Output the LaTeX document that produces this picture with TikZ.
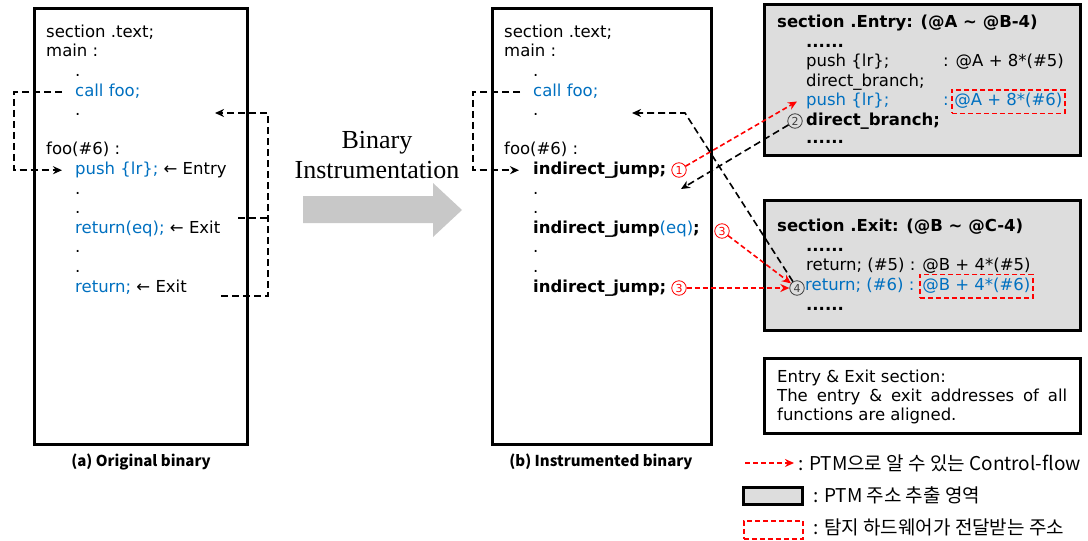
\documentclass[tikz,border=0pt]{standalone}
\usepackage{fontspec}
\setmainfont{DejaVu Sans}
\newfontfamily\captionface{Noto Sans CJK KR}
\newfontfamily\titleface{Liberation Serif}
\usetikzlibrary{positioning}
\usetikzlibrary{calc}
\usetikzlibrary{arrows.meta}
\definecolor{codeblue}{HTML}{0070C0}
\definecolor{ptmgray}{HTML}{DDDDDD}
\definecolor{arrowgray}{HTML}{C8C8C8}
\tikzset{
    % Filled tips, a little larger than the default ones
    >={Stealth[length=9pt, width=8pt]},
%
    % One line of a listing, placed by its left end
    code line/.style={font=\fontsize{16.5}{19.5}\selectfont, inner sep=0pt,
        anchor=west, text height=12pt, text depth=3.5pt},
%
    % Outline of a whole binary
    binary box/.style={draw, line width=3pt, outer sep=0pt},
%
    % Region that the PTM pulls its addresses out of
    ptm box/.style={binary box, fill=ptmgray},
%
    % Plain control flow, and control flow that the PTM can follow
    plain flow/.style={->, line width=1.6pt, dash pattern=on 7pt off 4pt},
    ptm flow/.style={plain flow, red, dash pattern=on 5pt off 3pt},
%
    % Address that is handed on to the detector
    addr mark/.style={draw=red, line width=1.5pt, dash pattern=on 5pt off 3pt,
        inner xsep=2.5pt, inner ysep=4pt},
%
    % Circled step numbers
    step mark/.style={circle, draw, line width=0.8pt, inner sep=0pt,
        minimum size=14.5pt, font=\fontsize{11}{11}\selectfont},
%
    legend text/.style={font=\captionface\fontsize{19}{22}\selectfont,
        inner sep=0pt, anchor=west}}

\begin{document}
\begin{tikzpicture}[x=1pt, y=-1pt]
\useasboundingbox (0,0) rectangle (1088,541);

% (a) the original binary
\node[binary box, anchor=north west, minimum width=213pt, minimum height=436pt]
    (orig box) at (34,8) {};
\node[code line] (orig section) at (46,33) {section .text;};
\node[code line] (orig main) at (46,52.6) {main :};
\node[code line] (orig dot1) at (75,72.2) {.};
\node[code line, codeblue] (orig call) at (75,91.8) {call foo;};
\node[code line] (orig dot2) at (75,111.4) {.};
\node[code line] (orig foo) at (46,150.6) {foo(\#6) :};
\node[code line] (orig push) at (75,170.2) {{\color{codeblue}push \{lr\};} ← Entry};
\node[code line] (orig dot3) at (75,189.8) {.};
\node[code line] (orig dot4) at (75,209.4) {.};
\node[code line] (orig reteq) at (75,229) {{\color{codeblue}return(eq);} ← Exit};
\node[code line] (orig dot5) at (75,248.6) {.};
\node[code line] (orig dot6) at (75,268.2) {.};
\node[code line] (orig ret) at (75,287.8) {{\color{codeblue}return;} ← Exit};
\node[font=\captionface\bfseries\fontsize{15}{18}\selectfont] (orig caption)
    at (141,462) {(a) Original binary};

\coordinate (orig back) at (215,113);
\coordinate (orig reteq out) at (238,218);
\coordinate (orig ret out) at (221,296);
\draw[plain flow] ([xshift=-13pt]orig call.west) -- ++(-48,0)
    |- ([xshift=-13pt]orig push.west);
\draw[plain flow] (orig ret out) -- ++(47,0) |- (orig back);
\draw[line width=1.6pt, dash pattern=on 7pt off 4pt]
    (orig reteq out) -- ++(30,0);

% the instrumentation step
\fill[arrowgray] (303,196) -- (433,196) -- (433,183) -- (462,210)
    -- (433,237) -- (433,223) -- (303,223) -- cycle;
\node[font=\titleface\fontsize{26}{30}\selectfont, align=center]
    (instrument label) at (377,155) {Binary\\Instrumentation};

% (b) the instrumented binary
\node[binary box, anchor=north west, minimum width=219pt, minimum height=436pt]
    (inst box) at (492,8) {};
\node[code line] (inst section) at (504,33) {section .text;};
\node[code line] (inst main) at (504,52.6) {main :};
\node[code line] (inst dot1) at (533,72.2) {.};
\node[code line, codeblue] (inst call) at (533,91.8) {call foo;};
\node[code line] (inst dot2) at (533,111.4) {.};
\node[code line] (inst foo) at (504,150.6) {foo(\#6) :};
\node[code line, font=\bfseries\fontsize{16.5}{19.5}\selectfont]
    (inst jump) at (533,170.2) {indirect\_jump;};
\node[code line] (inst dot3) at (533,189.8) {.};
\node[code line] (inst dot4) at (533,209.4) {.};
\node[code line] (inst jumpeq) at (533,229)
    {\textbf{indirect\_jump}{\color{codeblue}(eq)}\textbf{;}};
\node[code line] (inst dot5) at (533,248.6) {.};
\node[code line] (inst dot6) at (533,268.2) {.};
\node[code line, font=\bfseries\fontsize{16.5}{19.5}\selectfont]
    (inst jumpret) at (533,287.8) {indirect\_jump;};
\node[font=\captionface\bfseries\fontsize{15}{18}\selectfont] (inst caption)
    at (601,462) {(b) Instrumented binary};

\draw[plain flow] ([xshift=-13pt]inst call.west) -- ++(-47,0)
    |- ([xshift=-14pt]inst jump.west);

% entry section
\node[ptm box, anchor=north west, minimum width=316pt, minimum height=151pt]
    (entry box) at (764,4) {};
\node[code line, font=\bfseries\fontsize{16.5}{19.5}\selectfont]
    (entry head) at (777,23) {section .Entry: (@A \textasciitilde{} @B-4)};
\node[code line, font=\bfseries\fontsize{16.5}{19.5}\selectfont]
    (entry dots1) at (806,43) {......};
\node[code line] (entry push1) at (806,62) {push \{lr\};};
\node[code line] (entry addr1) at (943,62) {: @A + 8*(\#5)};
\node[code line] (entry branch1) at (806,82) {direct\_branch;};
\node[code line, codeblue] (entry push2) at (806,101.5) {push \{lr\};};
\node[code line, codeblue] (entry colon2) at (943,101.5) {:};
\node[code line, text=codeblue, addr mark] (entry addr2) at (951,101.5)
    {@A + 8*(\#6)};
\node[code line, font=\bfseries\fontsize{16.5}{19.5}\selectfont]
    (entry branch2) at (806,121) {direct\_branch;};
\node[code line, font=\bfseries\fontsize{16.5}{19.5}\selectfont]
    (entry dots2) at (806,139) {......};

% exit section
\node[ptm box, anchor=north west, minimum width=316pt, minimum height=130pt]
    (exit box) at (764,200) {};
\node[code line, font=\bfseries\fontsize{16.5}{19.5}\selectfont]
    (exit head) at (777,227) {section .Exit: (@B \textasciitilde{} @C-4)};
\node[code line, font=\bfseries\fontsize{16.5}{19.5}\selectfont]
    (exit dots1) at (806,247) {......};
\node[code line] (exit ret1) at (806,266.5) {return; (\#5) : @B + 4*(\#5)};
\node[code line, codeblue] (exit ret2) at (805,286) {return; (\#6) :};
\node[code line, text=codeblue, addr mark] (exit addr2) at (919,286)
    {@B + 4*(\#6)};
\node[code line, font=\bfseries\fontsize{16.5}{19.5}\selectfont]
    (exit dots2) at (806,306) {......};

% note on alignment
\node[binary box, anchor=north west, minimum width=316pt, minimum height=75pt]
    (note box) at (764,358) {};
\node[code line] (note head) at (777,378) {Entry \& Exit section:};
\node[code line] (note body) at (777,397)
    {\makebox[290pt][s]{The entry \& exit addresses of all}};
\node[code line] (note tail) at (777,416) {functions are aligned.};

% step numbers and the flows between the sections
\node[step mark, red] (step one) at (679,170) {1};
\node[step mark, black!75] (step two) at (795,121) {2};
\node[step mark, red] (step three a) at (722,231) {3};
\node[step mark, red] (step three b) at (679,288) {3};
\node[step mark, black!75] (step four) at (797,288) {4};

\coordinate (jump back) at (681,189);
\coordinate (ret corner) at (685,113);
\coordinate (ret back) at (632,113);
\draw[ptm flow] (step one) -- ([xshift=-9pt]entry push2.west);
\draw[plain flow] (step two) -- (jump back);
\draw[plain flow] (step four) -- (ret corner) -- (ret back);
\draw[ptm flow] (step three a) -- (step four);
\draw[ptm flow] (step three b) -- (step four);

% legend
\node[legend text] (legend flow) at (798,463) {: PTM으로 알 수 있는 Control-flow};
\draw[ptm flow] ([xshift=-53pt]legend flow.west) -- ([xshift=-4pt]legend flow.west);
\node[ptm box, anchor=north west, minimum width=59pt, minimum height=17pt]
    (legend box) at (743,487) {};
\node[legend text] (legend box text) at (813,495) {: PTM 주소 추출 영역};
\node[draw=red, line width=1.5pt, dash pattern=on 5pt off 3pt, anchor=north west,
    minimum width=59pt, minimum height=18pt] (legend addr) at (743,520) {};
\node[legend text] (legend addr text) at (813,527) {: 탐지 하드웨어가 전달받는 주소};

\end{tikzpicture}
\end{document}
